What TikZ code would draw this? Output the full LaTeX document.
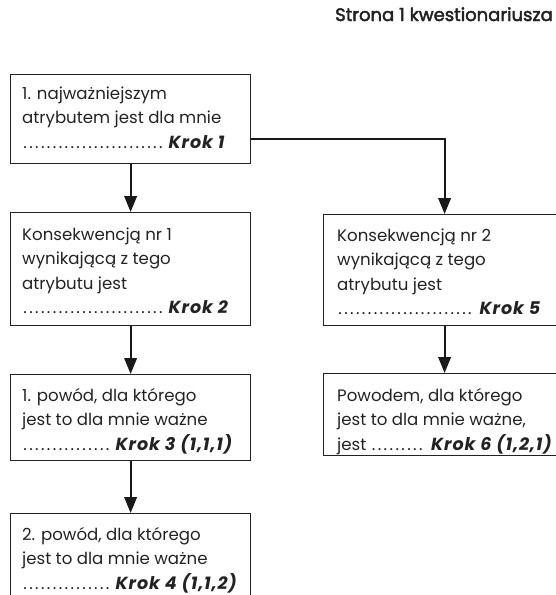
\documentclass[tikz,border=0pt]{standalone}
\usepackage{fontspec}
\setmainfont{Poppins}
\newfontfamily\hdrfont[FakeBold=2.5]{Poppins}
\usetikzlibrary{arrows.meta}
\definecolor{ink}{HTML}{222222}
\newcommand\bodyfont{\fontsize{16.6}{24.5}\selectfont}
% a stack of lines whose baseline is the first line
\newcommand\stack[1]{\vtop{\baselineskip=24.5pt\lineskiplimit=-10pt #1}}
\newcommand\tline[1]{\hbox{#1}}
% a run of leader dots of a given width (pt)
\newcommand\dotrun[1]{\hbox to #1pt{\leaders\hbox to 5.9pt{\hss.\hss}\hfill}}
\newcommand\krok[1]{{\bfseries\itshape\addfontfeature{LetterSpace=5}\fontsize{17.5}{24.5}\selectfont #1}}
\tikzset{
  box/.style={draw=ink, line width=1.2pt, anchor=north west, inner sep=0pt},
  txt/.style={anchor=base west, inner sep=0pt, text=ink, font=\bodyfont},
  flow/.style={draw=black!90, line width=2.2pt, -{Triangle[width=12.5pt,length=16pt]}}
}
\begin{document}
\begin{tikzpicture}[x=1pt,y=-1pt]
\useasboundingbox (0,0) rectangle (556,595);
\clip (0,0) rectangle (556,595);

\node[anchor=base east, inner sep=0pt, text=ink, font=\hdrfont\fontsize{18}{20}\selectfont] (hdr) at (553,21) {Strona 1 kwestionariusza};

% left column
\node[box, minimum width=240pt, minimum height=89pt] (b1) at (10,74) {};
\node[txt] (t1) at (22,99) {\stack{\tline{1. najważniejszym}\tline{atrybutem jest dla mnie}\tline{\dotrun{142}\ \krok{Krok 1}}}};

\node[box, minimum width=240pt, minimum height=113pt] (b2) at (10,212) {};
\node[txt] (t2) at (22,240) {\stack{\tline{Konsekwencją nr 1}\tline{wynikającą z tego}\tline{atrybutu jest}\tline{\dotrun{142}\ \krok{Krok 2}}}};

\node[box, minimum width=240pt, minimum height=86pt] (b3) at (10,374) {};
\node[txt] (t3) at (22,401) {\stack{\tline{1. powód, dla którego}\tline{jest to dla mnie ważne}\tline{\dotrun{89}\ \krok{Krok 3 (1,1,1)}}}};

\node[box, minimum width=240pt, minimum height=110pt] (b4) at (10,513) {};
\node[txt] (t4) at (22,540) {\stack{\tline{2. powód, dla którego}\tline{jest to dla mnie ważne}\tline{\dotrun{89}\ \krok{Krok 4 (1,1,2)}}}};

% right column
\node[box, minimum width=242pt, minimum height=111pt] (b5) at (323,214) {};
\node[txt] (t5) at (337,241) {\stack{\tline{Konsekwencją nr 2}\tline{wynikającą z tego}\tline{atrybutu jest}\tline{\dotrun{138}\ \krok{Krok 5}}}};

\node[box, minimum width=242pt, minimum height=82pt] (b6) at (323,373) {};
\node[txt] (t6) at (337,401) {\stack{\tline{Powodem, dla którego}\tline{jest to dla mnie ważne,}\tline{jest \dotrun{56}\ \krok{Krok 6 (1,2,1)}}}};

% connectors
\draw[flow] (b1.south) -- (b2.north);
\draw[flow] ([yshift=-19.5pt]b1.east) -| (b5.north);
\draw[flow] (b2.south) -- (b3.north);
\draw[flow] (b3.south) -- (b4.north);
\draw[flow] (b5.south) -- (b6.north);
\end{tikzpicture}
\end{document}
